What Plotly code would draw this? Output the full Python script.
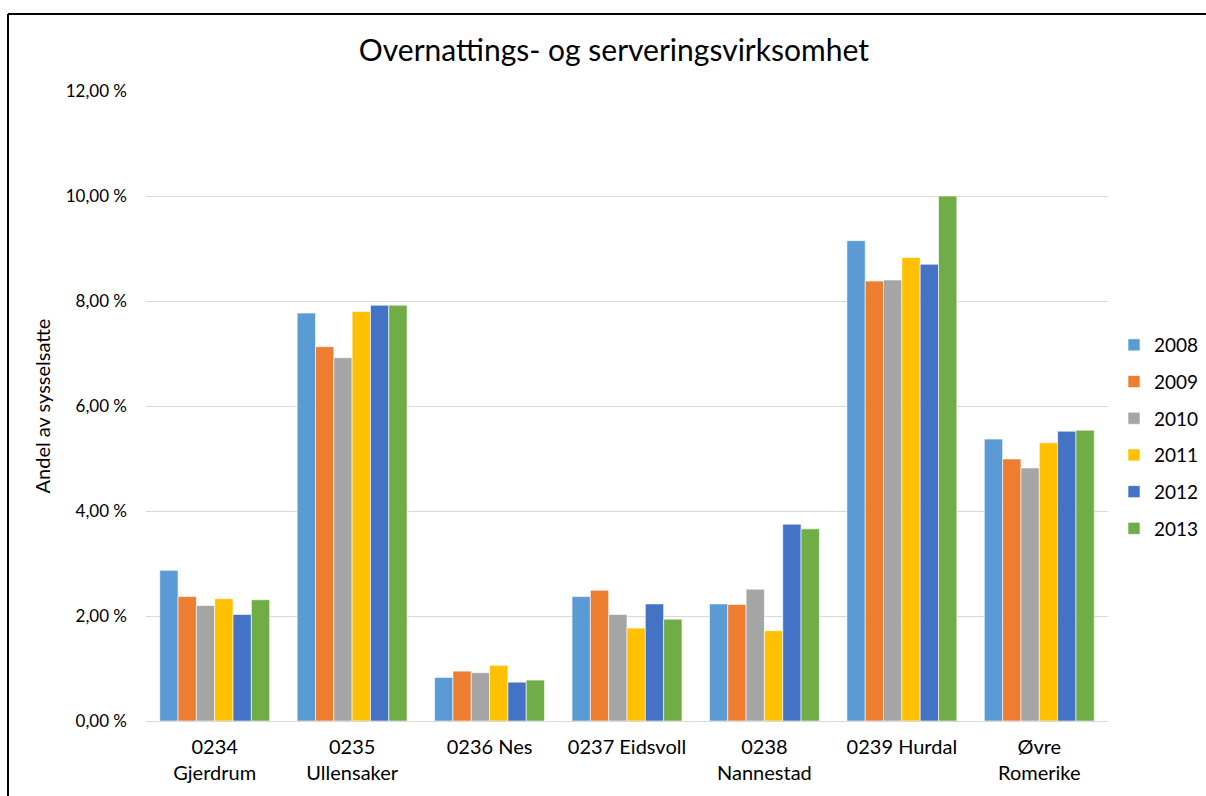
import plotly.graph_objects as go

# Andel sysselsatte i overnattings- og serveringsvirksomhet, prosent
kommuner = ["0234<br>Gjerdrum", "0235<br>Ullensaker", "0236 Nes", "0237 Eidsvoll",
            "0238<br>Nannestad", "0239 Hurdal", "Øvre<br>Romerike"]
aar = ["2008", "2009", "2010", "2011", "2012", "2013"]
farger = ["#5B9BD5", "#ED7D31", "#A5A5A5", "#FFC000", "#4472C4", "#70AD47"]

v2008 = [2.87, 7.77, 0.83, 2.37, 2.23, 9.15, 5.37]
v2009 = [2.37, 7.13, 0.95, 2.49, 2.22, 8.38, 4.99]
v2010 = [2.20, 6.92, 0.92, 2.03, 2.51, 8.40, 4.82]
v2011 = [2.33, 7.80, 1.06, 1.77, 1.72, 8.83, 5.30]
v2012 = [2.03, 7.92, 0.74, 2.23, 3.75, 8.70, 5.52]
v2013 = [2.31, 7.92, 0.78, 1.94, 3.66, 10.00, 5.54]
serier = [v2008, v2009, v2010, v2011, v2012, v2013]

y_ticks = [0, 2, 4, 6, 8, 10, 12]
y_ticktext = [f"{v:.2f}".replace(".", ",") + " %" for v in y_ticks]

fig = go.Figure()
for navn, farge, verdier in zip(aar, farger, serier):
    fig.add_trace(go.Bar(
        x=kommuner, y=verdier, name=navn, legendgroup=navn,
        marker=dict(color=farge, line=dict(color="rgba(255,255,255,0.6)", width=1)),
    ))

font = "Lato, 'Noto Sans', sans-serif"
fig.update_layout(
    width=1206, height=796,
    margin=dict(l=146, r=98, t=91, b=75, autoexpand=False),
    paper_bgcolor="white", plot_bgcolor="white",
    barmode="group", bargap=0.2, bargroupgap=0,
    font=dict(family=font, color="#000000"),
    title=dict(text="Overnattings- og serveringsvirksomhet", x=0.509, xanchor="center",
               y=0.937, yanchor="middle", font=dict(size=30, family=font, color="#000000")),
    xaxis=dict(showgrid=False, showline=False, ticks="", ticklabelstandoff=12,
               tickfont=dict(size=20, family=font, color="#000000")),
    yaxis=dict(range=[0, 12], tickvals=y_ticks, ticktext=y_ticktext,
               showgrid=True, gridcolor="#D9D9D9", gridwidth=1,
               zeroline=True, zerolinecolor="#D9D9D9", zerolinewidth=1,
               showline=False, ticks="", ticklabelstandoff=18,
               tickfont=dict(size=17, family=font, color="#000000"),
               title=dict(text="Andel av sysselsatte", standoff=9,
                          font=dict(size=20, family=font, color="#000000"))),
    legend=dict(xref="container", yref="container", x=1114 / 1206, xanchor="left",
                y=1 - 437 / 796, yanchor="middle",
                font=dict(size=19, family=font, color="#000000"),
                traceorder="grouped", tracegroupgap=9, bgcolor="rgba(0,0,0,0)"),
    shapes=[
        dict(type="line", xref="paper", yref="paper",
             x0=(8 - 146) / 962, x1=(1230 - 146) / 962,
             y0=(721 - 14) / 630, y1=(721 - 14) / 630,
             line=dict(color="#000000", width=2)),
        dict(type="line", xref="paper", yref="paper",
             x0=(8 - 146) / 962, x1=(8 - 146) / 962,
             y0=(721 - 14) / 630, y1=(721 - 820) / 630,
             line=dict(color="#000000", width=2)),
    ],
)

fig.write_html("out.html")
